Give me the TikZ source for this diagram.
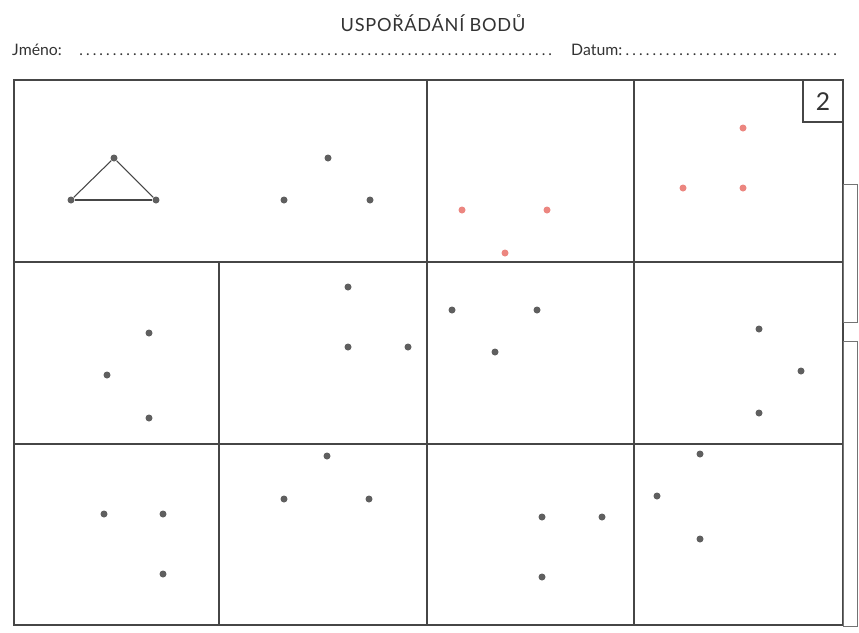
\documentclass[tikz,border=0pt]{standalone}
\usepackage{fontspec}
\setmainfont{Lato}
\newfontfamily\titlefont[LetterSpace=4]{Lato}
\usetikzlibrary{positioning}
\definecolor{dotgray}{RGB}{95,95,95}
\definecolor{dotred}{RGB}{236,134,128}
\definecolor{linegray}{RGB}{70,70,70}

\begin{document}
\begin{tikzpicture}[x=0.03cm,y=-0.03cm,
  dot node/.style={circle,fill=dotgray,inner sep=0pt,minimum size=0.21cm},
  red node/.style={circle,fill=dotred,inner sep=0pt,minimum size=0.21cm},
  cell line/.style={draw=linegray,line width=1.1pt},
  text node/.style={anchor=base west,inner sep=0pt,text=black!80}]

\useasboundingbox[fill=white] (0,0) rectangle (859,632);

% heading
\node[anchor=base,inner sep=0pt,text=black!80] (title) at (433,31) {\titlefont\fontsize{15.5}{18}\selectfont USPOŘÁDÁNÍ BODŮ};
\node[text node] (jmeno) at (12,55) {\fontsize{13.5}{15}\selectfont Jméno:};
\node[text node] (jmenodots) at (76,55) {\fontsize{13}{15}\selectfont\makebox[14.37cm]{\dotfill}};
\node[text node] (datum) at (571,55) {\fontsize{13.5}{15}\selectfont Datum:};
\node[text node] (datumdots) at (622,55) {\fontsize{13}{15}\selectfont\makebox[6.55cm]{\dotfill}};

% grid
\path[cell line] (14,80) rectangle (843,625);
\path[cell line] (14,444) -- (843,444);
\path[cell line] (427,262) -- (843,262);
\path[cell line] (219,262) -- (219,625);
\path[cell line] (427,80) -- (427,625);
\path[cell line] (634,80) -- (634,625);
\path[draw=linegray,line width=2.2pt] (14,80) rectangle (427,262);

% number box
\path[cell line] (803,80) rectangle (843,122);
\node[text=black!80] (num) at (823,102) {\fontsize{21}{24}\selectfont 2};

% strip on the right
\path[draw=black!55,line width=0.6pt] (843,184) rectangle (857,322);
\path[draw=black!55,line width=0.6pt] (843,341) rectangle (857,626);

% sample
\node[dot node] (1) at (114,158) {};
\node[dot node] (2) at (71,200) {};
\node[dot node] (3) at (156,200) {};
\path[draw=linegray,line width=0.9pt]
(1) edge (2)
(2) edge (3)
(3) edge (1);

\node[dot node] (4) at (328,158) {};
\node[dot node] (5) at (284,200) {};
\node[dot node] (6) at (370,200) {};

% red points
\node[red node] (7) at (462,210) {};
\node[red node] (8) at (547,210) {};
\node[red node] (9) at (505,253) {};
\node[red node] (10) at (743,128) {};
\node[red node] (11) at (683,188) {};
\node[red node] (12) at (743,188) {};

% second row
\node[dot node] (13) at (149,333) {};
\node[dot node] (14) at (107,375) {};
\node[dot node] (15) at (149,418) {};
\node[dot node] (16) at (348,287) {};
\node[dot node] (17) at (348,347) {};
\node[dot node] (18) at (408,347) {};
\node[dot node] (19) at (452,310) {};
\node[dot node] (20) at (537,310) {};
\node[dot node] (21) at (495,352) {};
\node[dot node] (22) at (759,329) {};
\node[dot node] (23) at (801,371) {};
\node[dot node] (24) at (759,413) {};

% third row
\node[dot node] (25) at (104,514) {};
\node[dot node] (26) at (163,514) {};
\node[dot node] (27) at (163,574) {};
\node[dot node] (28) at (327,456) {};
\node[dot node] (29) at (284,499) {};
\node[dot node] (30) at (369,499) {};
\node[dot node] (31) at (542,517) {};
\node[dot node] (32) at (602,517) {};
\node[dot node] (33) at (542,577) {};
\node[dot node] (34) at (700,454) {};
\node[dot node] (35) at (657,496) {};
\node[dot node] (36) at (700,539) {};

\end{tikzpicture}
\end{document}
